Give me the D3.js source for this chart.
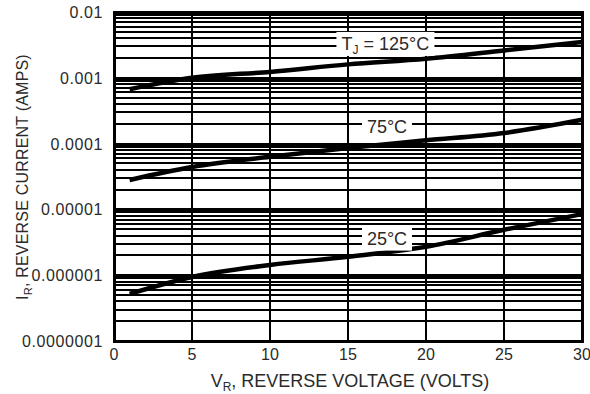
<!DOCTYPE html>
<html>
<head>
<meta charset="utf-8">
<script src="https://cdn.jsdelivr.net/npm/d3@7"></script>
<style>
  body { margin: 0; background: #fff; }
  text { font-family: "Liberation Sans", Arial, sans-serif; fill: #2a2a2a; }
</style>
</head>
<body>
<div id="container"></div>
<script>
// reverse voltage (V) and reverse current (A)
var vr = [1, 5, 10, 15, 20, 25, 30];
var i125 = [6.7e-4, 1.0e-3, 1.23e-3, 1.6e-3, 1.95e-3, 2.6e-3, 3.5e-3];
var i75 = [2.8e-5, 4.4e-5, 6.3e-5, 8.6e-5, 1.12e-4, 1.45e-4, 2.3e-4];
var i25 = [5.2e-7, 9.4e-7, 1.43e-6, 1.9e-6, 2.7e-6, 4.9e-6, 8.5e-6];

var xTicks = [0, 5, 10, 15, 20, 25, 30];
var yTicks = [1e-7, 1e-6, 1e-5, 1e-4, 1e-3, 1e-2];
var yTickLabels = ["0.0000001", "0.000001", "0.00001", "0.0001", "0.001", "0.01"];

// curve labels: voltage / current at the label centre
var labelV = [17.4, 17.5, 17.5];
var labelI = [3.27e-3, 1.79e-4, 3.6e-6];
var labelW = [98, 50, 50];

var width = 590, height = 394;
var margin = {top: 12, right: 8, bottom: 53, left: 114};
var w = width - margin.left - margin.right;
var h = height - margin.top - margin.bottom;

var svg = d3.select("#container").append("svg")
    .attr("width", width)
    .attr("height", height);

var g = svg.append("g")
    .attr("transform", "translate(" + margin.left + "," + margin.top + ")");

var x = d3.scaleLinear().domain([0, 30]).range([0, w]);
var y = d3.scaleLog().domain([1e-7, 1e-2]).range([h, 0]);

// minor grid: 2..9 in every decade
var minor = [];
yTicks.slice(0, -1).forEach(function(d) {
    for (var k = 2; k <= 9; k++) minor.push(d * k);
});

var grid = g.append("g").attr("shape-rendering", "crispEdges");

grid.selectAll(".hminor")
    .data(minor)
    .enter().append("line")
    .attr("x1", 0).attr("x2", w)
    .attr("y1", function(d) { return Math.round(y(d)); })
    .attr("y2", function(d) { return Math.round(y(d)); })
    .attr("stroke", "#000").attr("stroke-width", 2);

grid.selectAll(".hmajor")
    .data(yTicks)
    .enter().append("line")
    .attr("x1", 0).attr("x2", w)
    .attr("y1", function(d) { return Math.round(y(d)); })
    .attr("y2", function(d) { return Math.round(y(d)); })
    .attr("stroke", "#000").attr("stroke-width", 3);

grid.selectAll(".vgrid")
    .data(xTicks)
    .enter().append("line")
    .attr("x1", function(d) { return Math.round(x(d)); })
    .attr("x2", function(d) { return Math.round(x(d)); })
    .attr("y1", 0).attr("y2", h)
    .attr("stroke", "#000").attr("stroke-width", 2);

grid.append("rect")
    .attr("width", w).attr("height", h)
    .attr("fill", "none").attr("stroke", "#000").attr("stroke-width", 3);

var line = d3.line()
    .x(function(d) { return x(d[0]); })
    .y(function(d) { return y(d[1]); })
    .curve(d3.curveMonotoneX);

[i125, i75, i25].forEach(function(s) {
    g.append("path")
        .datum(d3.zip(vr, s))
        .attr("d", line)
        .attr("fill", "none")
        .attr("stroke", "#000")
        .attr("stroke-width", 4.5);
});

// curve labels with white boxes
var labelParts = [
    [{t: "T"}, {t: "J", sub: true}, {t: " = 125°C", up: true}],
    [{t: "75°C"}],
    [{t: "25°C"}]
];
labelParts.forEach(function(parts, i) {
    var cx = x(labelV[i]), cy = y(labelI[i]);
    g.append("rect")
        .attr("x", cx - labelW[i] / 2).attr("y", cy - 12)
        .attr("width", labelW[i]).attr("height", 24)
        .attr("fill", "#fff");
    var t = g.append("text")
        .attr("x", cx).attr("y", cy + 6.5)
        .attr("text-anchor", "middle")
        .style("font-size", "18px");
    parts.forEach(function(p) {
        var ts = t.append("tspan").text(p.t);
        if (p.sub) ts.attr("dy", 4).style("font-size", "12px");
        if (p.up) ts.attr("dy", -4);
    });
});

// tick labels
g.selectAll(".ylab")
    .data(yTicks)
    .enter().append("text")
    .attr("x", -11)
    .attr("y", function(d) { return y(d) + 6; })
    .attr("text-anchor", "end")
    .style("font-size", "16px")
    .style("letter-spacing", "0.6px")
    .text(function(d, i) { return yTickLabels[i]; });

g.selectAll(".xlab")
    .data(xTicks)
    .enter().append("text")
    .attr("x", function(d) { return x(d); })
    .attr("y", h + 19)
    .attr("text-anchor", "middle")
    .style("font-size", "16px")
    .text(function(d) { return d; });

// axis titles
var xt = svg.append("text")
    .attr("x", 350).attr("y", 387)
    .attr("text-anchor", "middle")
    .style("font-size", "18px");
xt.append("tspan").text("V");
xt.append("tspan").text("R").attr("dy", 4).style("font-size", "12px");
xt.append("tspan").text(", REVERSE VOLTAGE (VOLTS)").attr("dy", -4);

var yt = svg.append("text")
    .attr("transform", "translate(28,177) rotate(-90)")
    .attr("text-anchor", "middle")
    .style("font-size", "16px")
    .style("letter-spacing", "0.2px");
yt.append("tspan").text("I");
yt.append("tspan").text("R").attr("dy", 4).style("font-size", "11px");
yt.append("tspan").text(", REVERSE CURRENT (AMPS)").attr("dy", -4);
</script>
</body>
</html>
